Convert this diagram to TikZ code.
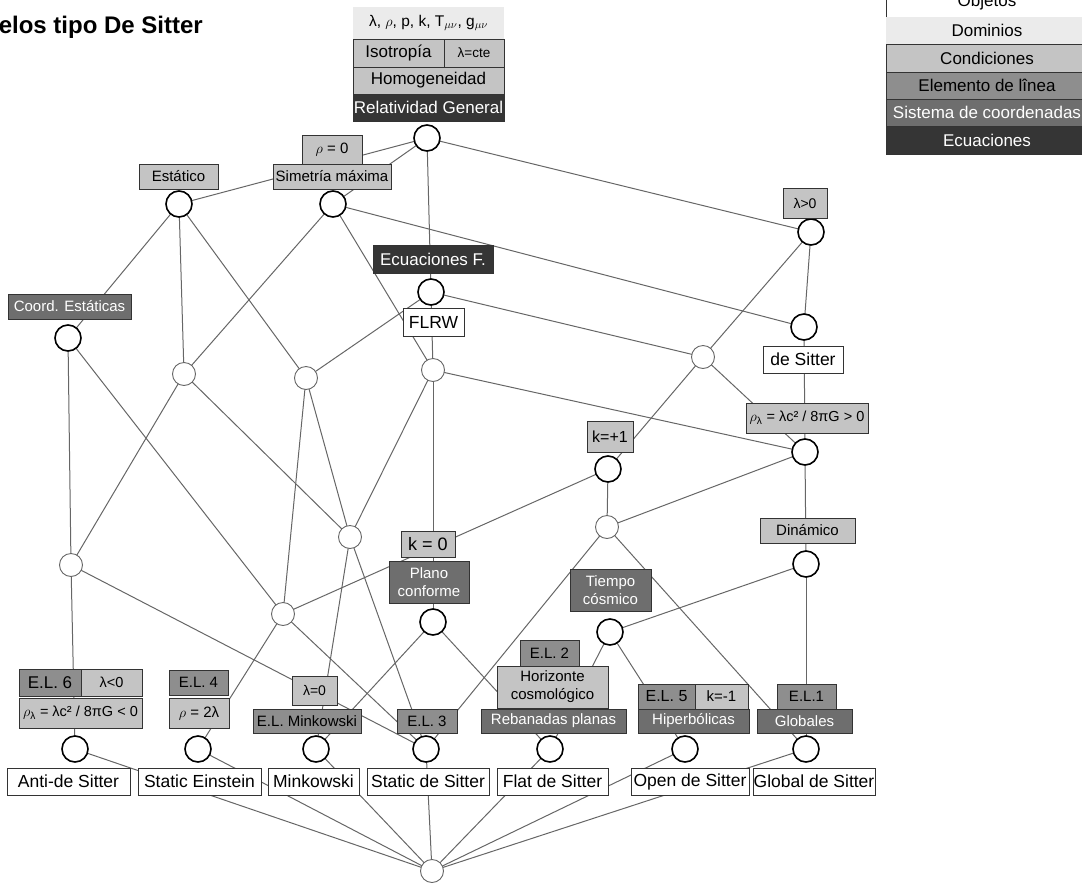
\documentclass[tikz,border=0pt]{standalone}
\usepackage{fontspec}
\usepackage{amsmath}
\setmainfont{Liberation Sans}
\pgfdeclarelayer{edges}
\pgfsetlayers{edges,main}
\definecolor{cCond}{HTML}{C4C4C4}
\definecolor{cElem}{HTML}{8E8E8E}
\definecolor{cCoord}{HTML}{6E6E6E}
\definecolor{cEq}{HTML}{353535}
\definecolor{cDom}{HTML}{EBEBEB}
\definecolor{cLine}{HTML}{666666}
% \bx{style}{name}{x1}{y1}{x2}{y2}{text}
\newcommand\bx[7]{\node[#1, minimum width={(#5-#3)*1pt}, minimum height={(#6-#4)*1pt}] (#2) at ({(#3+#5)/2},{(#4+#6)/2}) {#7};}
\tikzset{
  bxbase/.style={rectangle, draw=black!80, line width=0.7pt, inner sep=0pt, align=center},
  obj/.style={bxbase, fill=white, font=\fontsize{17.5}{20}\selectfont},
  cond/.style={bxbase, fill=cCond, font=\fontsize{15}{18}\selectfont},
  elem/.style={bxbase, fill=cElem, font=\fontsize{15}{18}\selectfont},
  crd/.style={bxbase, fill=cCoord, text=white, font=\fontsize{15}{18}\selectfont},
  eqs/.style={bxbase, fill=cEq, text=white, font=\fontsize{17}{19}\selectfont},
  dom/.style={rectangle, fill=cDom, inner sep=0pt, font=\fontsize{15.5}{18}\selectfont},
  bc/.style={circle, draw=black, line width=1.6pt, fill=white, minimum size=26pt, inner sep=0pt},
  sc/.style={circle, draw=black!60, line width=0.9pt, fill=white, minimum size=23pt, inner sep=0pt},
  edge/.style={draw=cLine, line width=1pt},
  lg/.style={font=\fontsize{17}{20}\selectfont}
}
\begin{document}
\begin{tikzpicture}[x=1pt,y=-1pt]
\useasboundingbox (0,0) rectangle (1082,884);
% title
\node[anchor=base east, font=\bfseries\fontsize{24}{27}\selectfont, inner sep=0pt] (title) at (203,33) {Modelos tipo De Sitter};

% legend
\bx{obj,lg}{lgA}{886}{-12}{1088}{17}{Objetos}
\bx{dom,lg}{lgB}{886}{17}{1088}{44}{Dominios}
\bx{cond,lg}{lgC}{886}{44}{1088}{72}{Condiciones}
\bx{elem,lg}{lgD}{886}{72}{1088}{99}{Elemento de l\^{\i}nea}
\bx{crd,lg}{lgE}{886}{99}{1088}{126}{Sistema de coordenadas}
\bx{eqs,lg}{lgF}{886}{126}{1088}{154}{Ecuaciones}

% circles
\node[bc] (T) at (427,138) {};
\node[bc] (E) at (179,204) {};
\node[bc] (SM) at (333,204) {};
\node[bc] (L) at (811,232) {};
\node[bc] (EF) at (431,292) {};
\node[bc] (dS) at (804,327) {};
\node[bc] (CE) at (68,338) {};
\node[sc] (A) at (184,374) {};
\node[sc] (B) at (306,378) {};
\node[sc] (C) at (433,370) {};
\node[sc] (D) at (703,357) {};
\node[bc] (K1) at (608,469) {};
\node[bc] (R) at (805,452) {};
\node[sc] (F) at (607,527) {};
\node[sc] (G) at (350,537) {};
\node[sc] (H) at (71,565) {};
\node[sc] (I) at (283,614) {};
\node[bc] (DIN) at (806,564) {};
\node[bc] (PC) at (433,622) {};
\node[bc] (TC) at (610,632) {};
\node[bc] (AdS) at (75,749) {};
\node[bc] (SE) at (198,749) {};
\node[bc] (Mk) at (316,749) {};
\node[bc] (SdS) at (426,749) {};
\node[bc] (FdS) at (550,749) {};
\node[bc] (OdS) at (685,749) {};
\node[bc] (GdS) at (806,749) {};
\node[sc] (BOT) at (432,871) {};

% top stack
\bx{dom}{dm}{353}{7}{504}{39}{λ, $\rho$, p, k, T$_{\mu\nu}$, g$_{\mu\nu}$}
\bx{cond,font=\fontsize{17}{19}\selectfont}{iso}{353}{39}{444}{67}{Isotropía}
\bx{cond,font=\fontsize{13.5}{15}\selectfont}{lcte}{444}{39}{504}{67}{λ=cte}
\bx{cond,font=\fontsize{17}{19}\selectfont}{hom}{353}{67}{504}{94}{Homogeneidad}
\bx{eqs}{rg}{353}{94}{504}{121}{Relatividad General}

\bx{cond}{rho0}{302}{135}{362}{164}{$\rho$ = 0}
\bx{cond}{smax}{273}{164}{391}{189}{Simetría máxima}
\bx{cond}{est}{139}{164}{218}{189}{Estático}
\bx{cond,font=\fontsize{14}{16}\selectfont}{lpos}{783}{188}{827}{218}{λ>0}
\bx{eqs}{ecf}{373}{245}{493}{273}{Ecuaciones F.}
\bx{obj}{flrw}{403}{308}{464}{336}{FLRW}
\bx{crd}{cest}{8}{294}{131}{319}{Coord. Estáticas}
\bx{obj}{desit}{763}{346}{843}{373}{de Sitter}
\bx{cond,font=\fontsize{14.5}{16}\selectfont}{rhop}{746}{403}{868}{433}{$\rho_{\text{λ}}$ = λc² / 8πG > 0}
\bx{cond,font=\fontsize{16}{18}\selectfont}{kp1}{587}{421}{633}{452}{k=+1}
\bx{cond}{din}{760}{518}{855}{543}{Dinámico}
\bx{cond,font=\fontsize{18}{20}\selectfont}{k0}{401}{531}{455}{557}{k = 0}
\bx{crd,font=\fontsize{15}{18}\selectfont}{plc}{389}{561}{469}{603}{Plano\\conforme}
\bx{crd,font=\fontsize{15}{18}\selectfont}{tcos}{570}{569}{651}{611}{Tiempo\\cósmico}

% lower labels
\bx{elem,font=\fontsize{17}{19}\selectfont}{el6}{19}{669}{81}{696}{E.L. 6}
\bx{cond,font=\fontsize{14.5}{16}\selectfont}{lneg}{81}{669}{142}{696}{λ<0}
\bx{cond,font=\fontsize{14.5}{16}\selectfont}{rhon}{19}{698}{142}{728}{$\rho_{\text{λ}}$ = λc² / 8πG < 0}
\bx{elem}{el4}{169}{670}{228}{695}{E.L. 4}
\bx{cond}{r2l}{169}{698}{229}{728}{$\rho$ = 2λ}
\bx{cond,font=\fontsize{14}{16}\selectfont}{l0}{292}{676}{337}{705}{λ=0}
\bx{elem}{elm}{253}{709}{361}{733}{E.L. Minkowski}
\bx{elem}{el3}{397}{709}{457}{733}{E.L. 3}
\bx{elem}{el2}{520}{640}{579}{666}{E.L. 2}
\bx{cond}{hor}{497}{666}{608}{708}{Horizonte\\cosmológico}
\bx{crd}{reb}{481}{709}{626}{733}{Rebanadas planas}
\bx{elem,font=\fontsize{16}{18}\selectfont}{el5}{638}{684}{695}{709}{E.L. 5}
\bx{cond}{kneg}{695}{684}{748}{709}{k=-1}
\bx{crd}{hip}{638}{709}{749}{733}{Hiperbólicas}
\bx{elem}{el1}{777}{684}{836}{709}{E.L.1}
\bx{crd}{glo}{757}{709}{852}{733}{Globales}

% objects
\bx{obj}{oAdS}{7}{768}{130}{795}{Anti-de Sitter}
\bx{obj}{oSE}{138}{768}{261}{795}{Static Einstein}
\bx{obj}{oMk}{268}{768}{359}{795}{Minkowski}
\bx{obj}{oSdS}{367}{768}{489}{795}{Static de Sitter}
\bx{obj}{oFdS}{497}{768}{608}{795}{Flat de Sitter}
\bx{obj}{oOdS}{631}{768}{749}{795}{Open de Sitter}
\bx{obj}{oGdS}{753}{768}{875}{795}{Global de Sitter}

% edges
\begin{pgfonlayer}{edges}
\foreach \a/\b in {T/E, T/SM, T/L, T/EF,
  SM/A, SM/C, SM/dS,
  E/CE, E/A, E/B,
  EF/B, EF/D, EF/C,
  L/dS, L/D, dS/R,
  CE/H, CE/I, A/H, A/G, B/I, B/G,
  C/G, C/R, C/PC, D/K1, D/R,
  K1/F, K1/I, R/F, R/DIN,
  F/SdS, F/GdS,
  G/Mk, G/SdS, H/AdS, H/SdS, I/SE, I/SdS,
  DIN/GdS, DIN/TC, PC/Mk, PC/FdS, TC/FdS, TC/OdS,
  AdS/BOT, SE/BOT, Mk/BOT, SdS/BOT, FdS/BOT, OdS/BOT, GdS/BOT}
  \draw[edge] (\a.center) -- (\b.center);
\end{pgfonlayer}
\end{tikzpicture}
\end{document}
